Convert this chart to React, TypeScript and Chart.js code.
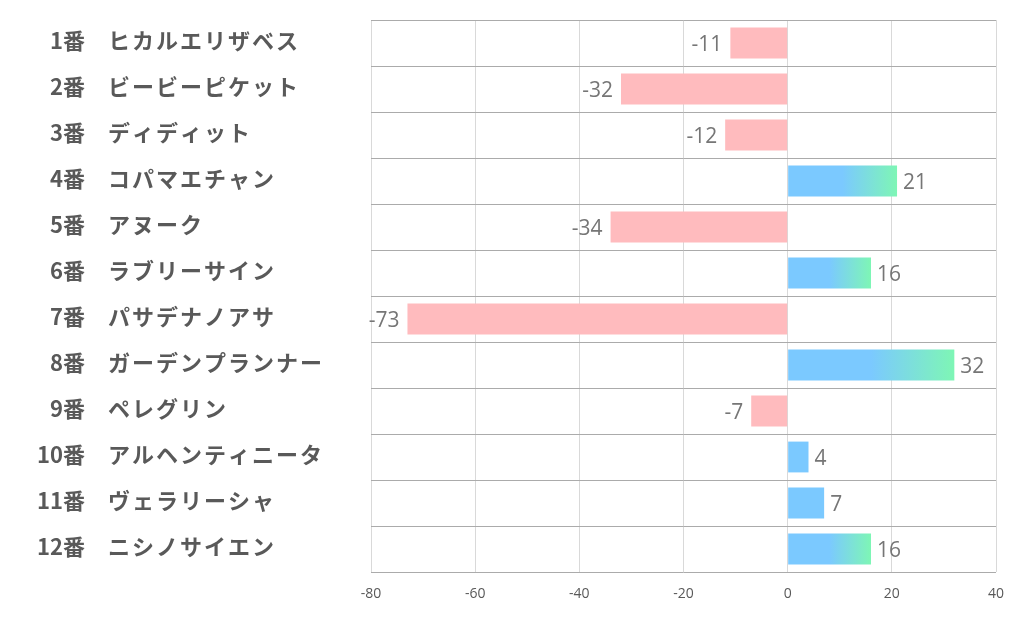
import React, { useEffect, useRef } from "react";
import { Chart, registerables } from "chart.js";

Chart.register(...registerables);

const horseNums = ["1番", "2番", "3番", "4番", "5番", "6番", "7番", "8番", "9番", "10番", "11番", "12番"];
const horseNames = [
  "ヒカルエリザベス",
  "ビービーピケット",
  "ディディット",
  "コパマエチャン",
  "アヌーク",
  "ラブリーサイン",
  "パサデナノアサ",
  "ガーデンプランナー",
  "ペレグリン",
  "アルヘンティニータ",
  "ヴェラリーシャ",
  "ニシノサイエン",
];
const values = [-11, -32, -12, 21, -34, 16, -73, 32, -7, 4, 7, 16];
const xMin = -80;
const xMax = 40;
const xStep = 20;

const PINK = "#FFBBBE";
const BLUE = "#7BC9FF";
const GREEN = "#7EF6B5";

export default function App() {
  const ref = useRef<HTMLCanvasElement>(null);

  useEffect(() => {
    if (!ref.current) return;
    const labelPlugin = {
      id: "yLabels",
      afterDraw(chart: any) {
        const c = chart.ctx;
        const y = chart.scales.y;
        c.save();
        c.font = "bold 22px 'Noto Sans CJK JP'";
        c.fillStyle = "#595959";
        c.textBaseline = "middle";
        horseNums.forEach((n, i) => {
          const py = y.getPixelForValue(i) - 2;
          (c as any).letterSpacing = "0px";
          c.textAlign = "right";
          c.fillText(n, 85, py);
          (c as any).letterSpacing = "2px";
          c.textAlign = "left";
          c.fillText(horseNames[i], 108, py);
        });
        (c as any).letterSpacing = "0px";
        c.restore();
      },
    };
    const valuePlugin = {
      id: "valueLabels",
      afterDatasetsDraw(chart: any) {
        const c = chart.ctx;
        const meta = chart.getDatasetMeta(0);
        c.save();
        c.font = "21px 'Open Sans'";
        c.fillStyle = "#767676";
        c.textBaseline = "middle";
        meta.data.forEach((bar: any, i: number) => {
          const v = values[i];
          if (v < 0) {
            c.textAlign = "right";
            c.fillText(String(v), bar.x - 8, bar.y + 2);
          } else {
            c.textAlign = "left";
            c.fillText(String(v), bar.x + 6, bar.y + 2);
          }
        });
        c.restore();
      },
    };
    const chart = new Chart(ref.current, {
      type: "bar",
      data: {
        labels: horseNums.map((n, i) => n + " " + horseNames[i]),
        datasets: [
          {
            data: values,
            backgroundColor: (ctx: any) => {
              const chart = ctx.chart;
              const v = values[ctx.dataIndex];
              if (v < 0) return PINK;
              if (v < 10) return BLUE;
              const xs = chart.scales && chart.scales.x;
              if (!xs || !chart.chartArea) return BLUE;
              const x0 = xs.getPixelForValue(0);
              const x1 = xs.getPixelForValue(v);
              const g = chart.ctx.createLinearGradient(x0, 0, x1, 0);
              g.addColorStop(0, BLUE);
              g.addColorStop(0.5, BLUE);
              g.addColorStop(1, GREEN);
              return g;
            },
            borderWidth: 0,
            categoryPercentage: 1,
            barPercentage: 0.67,
          },
        ],
      },
      options: {
        indexAxis: "y",
        animation: false,
        responsive: false,
        layout: { padding: { left: 371, right: 26, top: 20, bottom: 0 } },
        plugins: { legend: { display: false }, tooltip: { enabled: false } },
        scales: {
          x: {
            min: xMin,
            max: xMax,
            ticks: {
              stepSize: xStep,
              color: "#595959",
              font: { family: "'Open Sans'", size: 14 },
              padding: 14,
            },
            grid: { color: "#D9D9D9", drawTicks: false },
            border: { display: false },
            afterFit: (s: any) => {
              s.height = 54;
            },
          },
          y: {
            ticks: { display: false },
            grid: { color: "#ABABAB", offset: true, drawTicks: false },
            border: { display: false },
            afterFit: (s: any) => {
              s.width = 0;
            },
          },
        },
      },
      plugins: [labelPlugin, valuePlugin],
    } as any);
    return () => chart.destroy();
  }, []);

  return (
    <div style={{ position: "fixed", left: 0, top: 0, width: 1022, height: 626, background: "#fff" }}>
      <canvas ref={ref} width={1022} height={626} />
    </div>
  );
}
